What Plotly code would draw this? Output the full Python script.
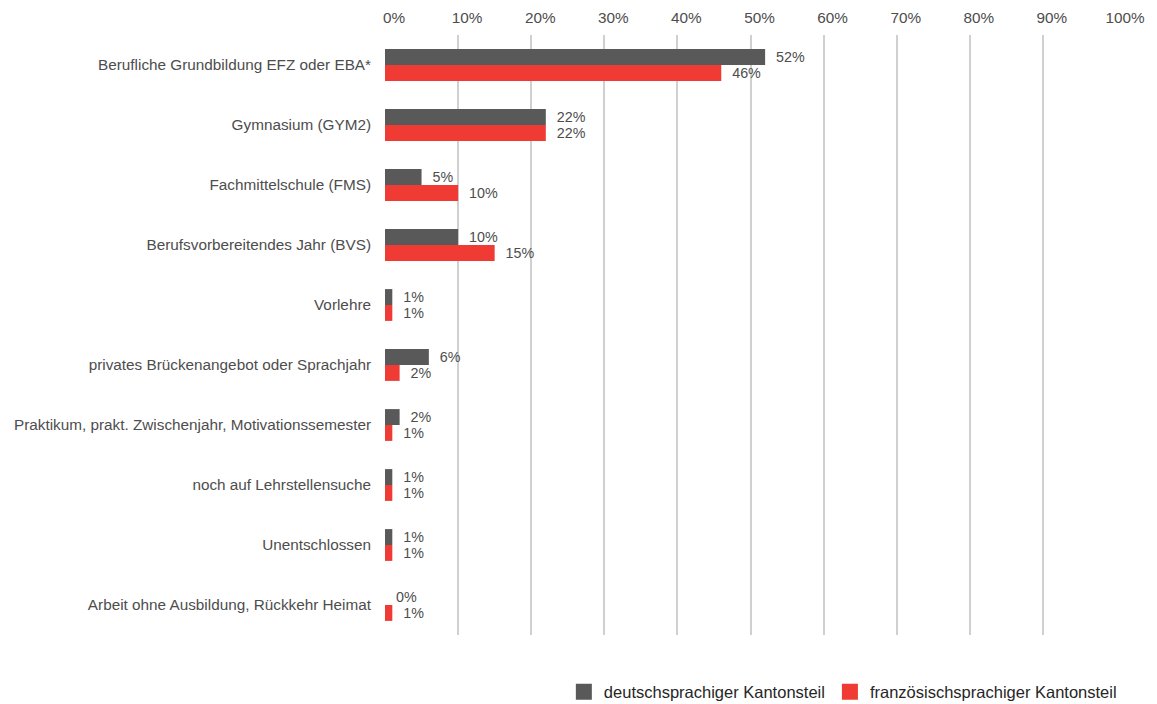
import plotly.graph_objects as go

categories = [
    "Berufliche Grundbildung EFZ oder EBA*",
    "Gymnasium (GYM2)",
    "Fachmittelschule (FMS)",
    "Berufsvorbereitendes Jahr (BVS)",
    "Vorlehre",
    "privates Brückenangebot oder Sprachjahr",
    "Praktikum, prakt. Zwischenjahr, Motivationssemester",
    "noch auf Lehrstellensuche",
    "Unentschlossen",
    "Arbeit ohne Ausbildung, Rückkehr Heimat",
]
de_values = [52, 22, 5, 10, 1, 6, 2, 1, 1, 0]
fr_values = [46, 22, 10, 15, 1, 2, 1, 1, 1, 1]
x_ticks = [0, 10, 20, 30, 40, 50, 60, 70, 80, 90, 100]
series_names = ["deutschsprachiger Kantonsteil", "französischsprachiger Kantonsteil"]

GREY = "#595959"
RED = "#EF3B33"
FONT = "Liberation Sans, Arial, sans-serif"
TXT = "#4d4d4d"
FS = 15.3
PAD = "\u00a0\u00a0"

fig = go.Figure()
for vals, name, col in [(de_values, series_names[0], GREY), (fr_values, series_names[1], RED)]:
    fig.add_trace(go.Bar(
        y=categories, x=vals, orientation="h", name=name,
        marker_color=col, marker_line_width=0,
        text=[f"{PAD}{v}%" for v in vals], textposition="outside",
        textfont=dict(size=FS, color=TXT, family=FONT), cliponaxis=False,
        showlegend=False,
    ))
# legend entries with larger square swatches
for name, col in [(series_names[0], GREY), (series_names[1], RED)]:
    fig.add_trace(go.Scatter(
        x=[None], y=[None], mode="markers", name=name,
        marker=dict(symbol="square", size=18, color=col), showlegend=True,
    ))

fig.update_layout(
    width=1157, height=704,
    margin=dict(l=377, r=49, t=27, b=77, autoexpand=False),
    paper_bgcolor="white", plot_bgcolor="white",
    barmode="group", bargap=0.47, bargroupgap=0,
    font=dict(family=FONT, size=FS, color=TXT),
    legend=dict(orientation="h", x=1.008, xanchor="right", y=-0.095, yanchor="middle",
                font=dict(size=16.5, color="#262626"), traceorder="normal",
                itemwidth=30),
    xaxis=dict(side="top", range=[0, 100], tickvals=x_ticks,
               ticktext=[f"{v}%" for v in x_ticks], showgrid=True,
               gridcolor="#d0d0d0", gridwidth=2, zeroline=False,
               showline=False, ticks="", ticklabelstandoff=8, ticklabelshift=9,
               automargin=False, tickfont=dict(size=FS, color=TXT)),
    yaxis=dict(autorange="reversed", showgrid=False, zeroline=False, showline=False,
               ticks="", ticklabelstandoff=13, automargin=False,
               tickfont=dict(size=FS, color=TXT)),
)

fig.write_html("out.html")
